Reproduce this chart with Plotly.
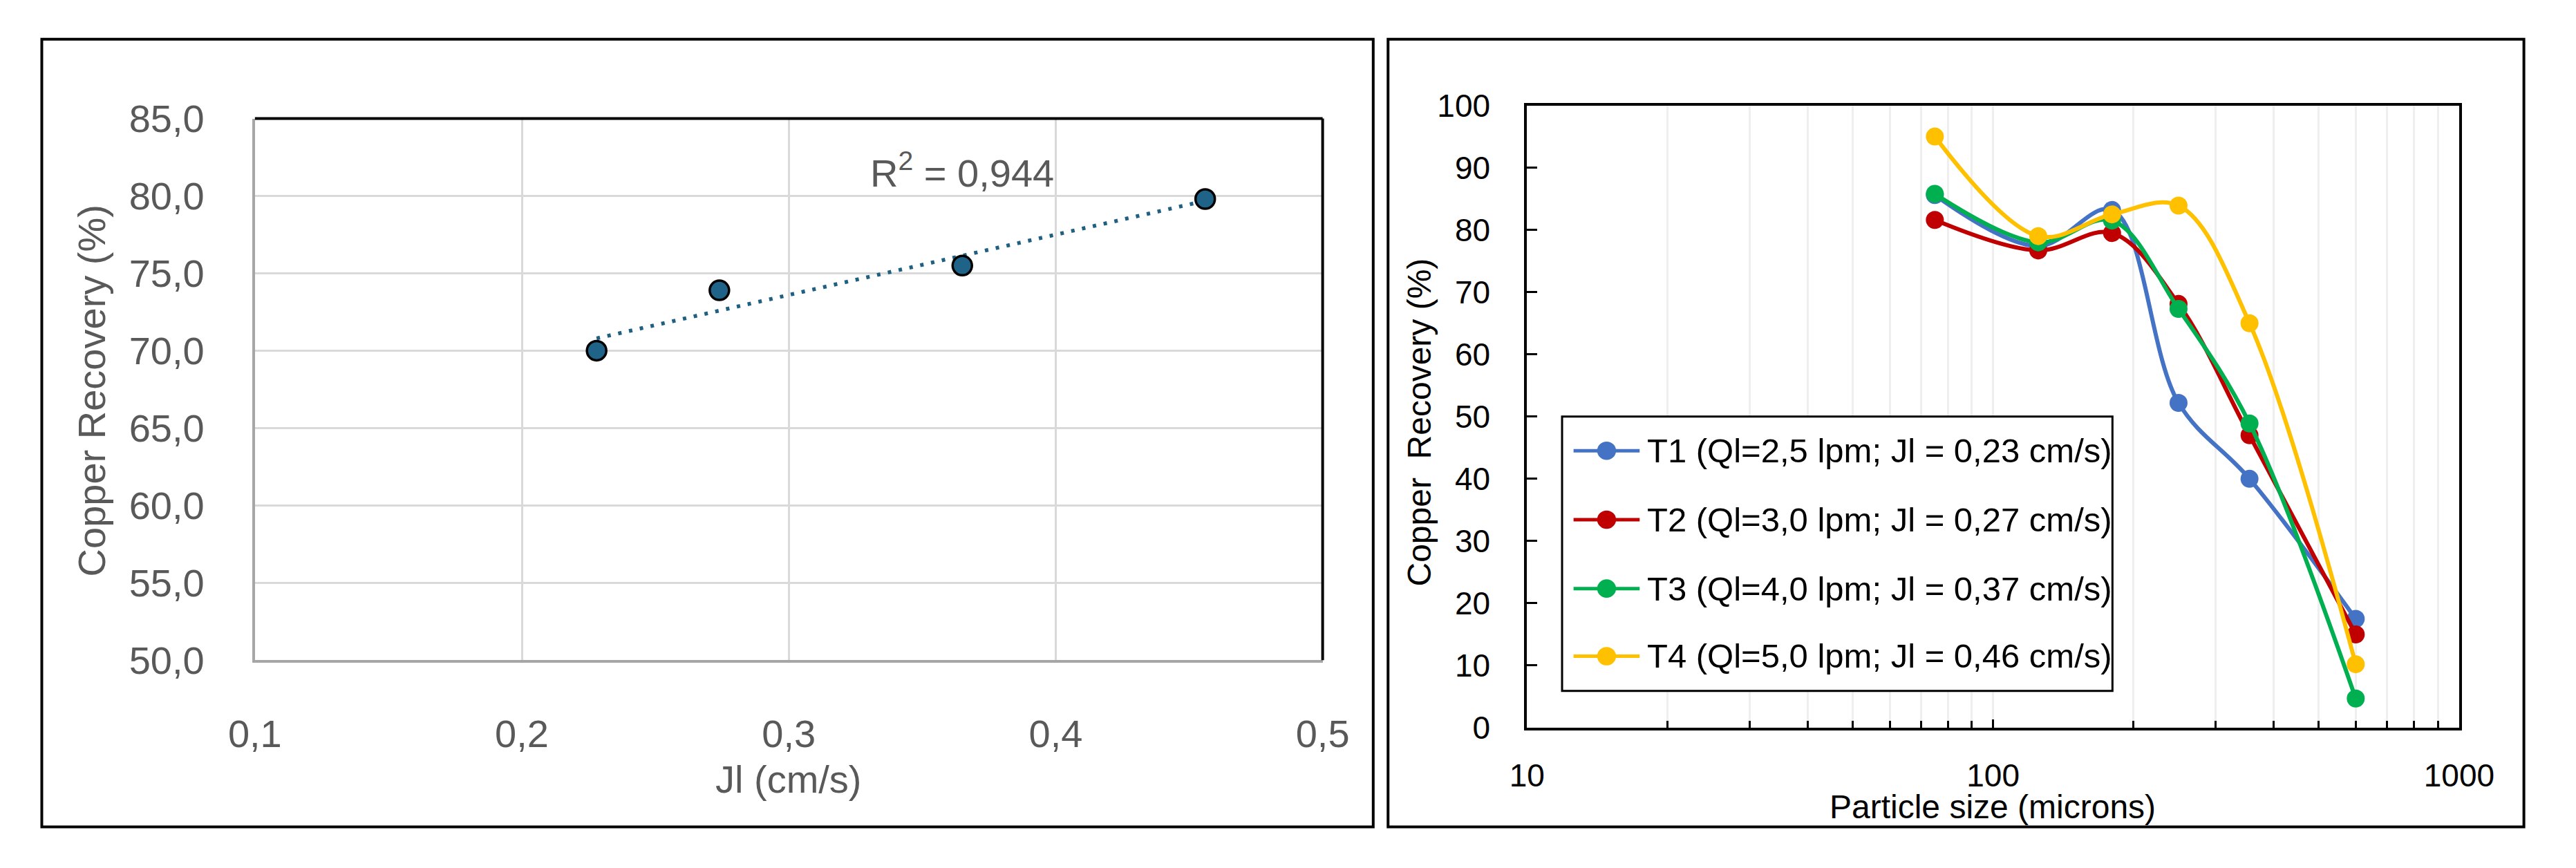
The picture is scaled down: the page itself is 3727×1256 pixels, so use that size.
import numpy as np
import plotly.graph_objects as go

# ---------------- data ----------------
# Left chart: copper recovery vs superficial liquid velocity
jl_values = [0.228, 0.274, 0.365, 0.456]
recovery_values = [70.0, 73.9, 75.5, 79.8]
r2_label = "R<sup>2</sup> = 0,944"

# Right chart: copper recovery by particle size
particle_size = [75, 125, 180, 250, 355, 600]
series_names = [
    "T1 (Ql=2,5 lpm; Jl = 0,23 cm/s)",
    "T2 (Ql=3,0 lpm; Jl = 0,27 cm/s)",
    "T3 (Ql=4,0 lpm; Jl = 0,37 cm/s)",
    "T4 (Ql=5,0 lpm; Jl = 0,46 cm/s)",
]
t1_recovery = [85.6, 77.4, 83.2, 52.2, 40.0, 17.5]
t2_recovery = [81.6, 76.7, 79.5, 68.1, 47.0, 15.0]
t3_recovery = [85.8, 78.0, 81.5, 67.3, 48.9, 4.7]
t4_recovery = [95.0, 79.0, 82.5, 83.9, 65.0, 10.2]
series_colors = ["#4472C4", "#C00000", "#00B050", "#FFC000"]

left_y_ticks = [50, 55, 60, 65, 70, 75, 80, 85]
left_x_ticks = [0.1, 0.2, 0.3, 0.4, 0.5]

# ---------------- layout geometry (pixels) ----------------
W, H = 3727, 1256
def px(x):
    return x / W
def py(y):
    return 1 - y / H

FONT = "Arial, Liberation Sans, sans-serif"
GRAY_TXT = "#595959"

fig = go.Figure()

# ---- left chart ----
coef = np.polyfit(jl_values, recovery_values, 1)
fit_x = [min(jl_values), max(jl_values)]
fit_y = list(np.polyval(coef, fit_x))
fig.add_trace(go.Scatter(
    x=fit_x, y=fit_y, mode="lines", xaxis="x", yaxis="y",
    line=dict(color="#1F5F82", width=5.5, dash="5px,11px"),
    showlegend=False, hoverinfo="skip", name="Linear trend",
))
fig.add_trace(go.Scatter(
    x=jl_values, y=recovery_values, mode="markers", xaxis="x", yaxis="y",
    marker=dict(size=28, color="#1F6389", line=dict(color="#000000", width=3.5)),
    showlegend=False, name="Copper Recovery",
))

# ---- right chart ----
for name, vals, col in zip(series_names,
                           [t1_recovery, t2_recovery, t3_recovery, t4_recovery],
                           series_colors):
    fig.add_trace(go.Scatter(
        x=particle_size, y=vals, mode="lines+markers", name=name,
        xaxis="x2", yaxis="y2",
        line=dict(color=col, width=6, shape="spline", smoothing=1.0),
        marker=dict(size=26, color=col),
        showlegend=False,
    ))

fig.update_layout(
    width=W, height=H,
    margin=dict(l=0, r=0, t=0, b=0),
    paper_bgcolor="white", plot_bgcolor="white",
    separators=",.",
    font=dict(family=FONT, color="#000000"),
    showlegend=False,
    xaxis=dict(
        domain=[px(338), px(1921)], anchor="y",
        range=[0.1, 0.5], tickvals=left_x_ticks, tickformat=".1f",
        showgrid=True, gridcolor="#D9D9D9", gridwidth=3,
        showline=True, linecolor="#A6A6A6", linewidth=4,
        ticks="", ticklabelstandoff=55,
        tickfont=dict(size=56, color=GRAY_TXT), zeroline=False,
    ),
    yaxis=dict(
        domain=[py(973), py(148)], anchor="x",
        range=[50, 85], tickvals=left_y_ticks, tickformat=".1f",
        showgrid=True, gridcolor="#D9D9D9", gridwidth=3,
        showline=True, linecolor="#A6A6A6", linewidth=4,
        ticks="", ticklabelstandoff=58,
        tickfont=dict(size=56, color=GRAY_TXT), zeroline=False,
    ),
    xaxis2=dict(
        domain=[px(2224), px(3606)], anchor="y2", type="log",
        range=[1, 3], dtick=1,
        showgrid=True, gridcolor="#EFEFEF", gridwidth=3,
        showline=True, linecolor="#000000", linewidth=4, mirror=True,
        ticks="inside", ticklen=12, tickwidth=3, tickcolor="#000000",
        minor=dict(ticks="inside", ticklen=10, tickwidth=3, tickcolor="#000000",
                   showgrid=True, gridcolor="#EFEFEF", gridwidth=3),
        ticklabelstandoff=26,
        tickfont=dict(size=46, color="#000000"), zeroline=False,
    ),
    yaxis2=dict(
        domain=[py(1076), py(128)], anchor="x2",
        range=[0, 100], dtick=10,
        showgrid=False,
        showline=True, linecolor="#000000", linewidth=4, mirror=True,
        ticks="inside", ticklen=15, tickwidth=3, tickcolor="#000000",
        ticklabelstandoff=40,
        tickfont=dict(size=46, color="#000000"), zeroline=False,
    ),
)

shapes = []
# panel frames
for x0, x1 in [(22, 1996), (2018, 3702)]:
    shapes.append(dict(type="rect", xref="paper", yref="paper",
                       x0=px(x0), x1=px(x1), y0=py(1227), y1=py(27),
                       line=dict(color="#000000", width=4), fillcolor="rgba(0,0,0,0)",
                       layer="above"))
# left plot area top/right black edges
shapes.append(dict(type="line", xref="x domain", yref="y domain",
                   x0=0, x1=1, y0=1, y1=1, line=dict(color="#000000", width=4), layer="above"))
shapes.append(dict(type="line", xref="x domain", yref="y domain",
                   x0=1, x1=1, y0=0, y1=1, line=dict(color="#000000", width=4), layer="above"))

# legend box (right chart)
LEG_L, LEG_R, LEG_T, LEG_B = 2276, 3092, 602, 1020
shapes.append(dict(type="rect", xref="paper", yref="paper",
                   x0=px(LEG_L), x1=px(LEG_R), y0=py(LEG_B), y1=py(LEG_T),
                   line=dict(color="#000000", width=3), fillcolor="white", layer="above"))
legend_rows = [654, 759, 864, 967]
annotations = []
for name, col, yc in zip(series_names, series_colors, legend_rows):
    shapes.append(dict(type="line", xref="paper", yref="paper",
                       x0=px(2293), x1=px(2391), y0=py(yc), y1=py(yc),
                       line=dict(color=col, width=5), layer="above"))
    shapes.append(dict(type="circle", xref="paper", yref="paper",
                       x0=px(2328), x1=px(2356), y0=py(yc + 14), y1=py(yc - 14),
                       line=dict(color=col, width=0), fillcolor=col, layer="above"))
    annotations.append(dict(text=name, x=px(2400), y=py(yc), xanchor="left",
                            yanchor="middle",
                            font=dict(size=49, color="#000000")))
fig.update_layout(shapes=shapes)

annotations += [
    dict(text="Copper Recovery (%)", x=px(96), y=py(563), textangle=-90,
         font=dict(size=56, color=GRAY_TXT)),
    dict(text="Jl (cm/s)", x=px(1129), y=py(1154),
         font=dict(size=56, color=GRAY_TXT)),
    dict(text=r2_label, x=px(1386), y=py(227),
         font=dict(size=56, color=GRAY_TXT)),
    dict(text="Copper\u00a0 Recovery (%)", x=px(2064), y=py(611), textangle=-90,
         font=dict(size=48, color="#000000")),
    dict(text="Particle size (microns)", x=px(2914), y=py(1197),
         font=dict(size=48, color="#000000")),
]
for a in annotations:
    a.setdefault("xanchor", "center")
    a.setdefault("yanchor", "middle")
    a.update(xref="paper", yref="paper", showarrow=False)
fig.update_layout(annotations=annotations)

fig.write_html("out.html")
